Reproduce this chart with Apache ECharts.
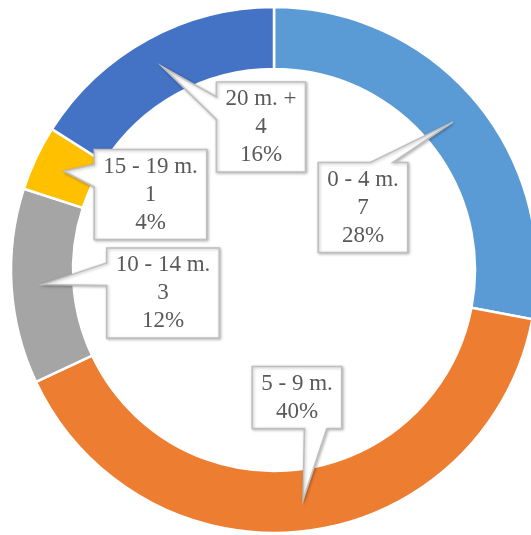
<!DOCTYPE html>
<html>
<head>
<meta charset="utf-8">
<script src="https://cdn.jsdelivr.net/npm/echarts@6/dist/echarts.min.js"></script>
<style>
  html, body { margin: 0; padding: 0; background: #ffffff; }
  #chart { width: 531px; height: 535px; }
</style>
</head>
<body>
<div id="chart"></div>
<script>
// ---- data ----
const categories = ['0 - 4 m.', '5 - 9 m.', '10 - 14 m.', '15 - 19 m.', '20 m. +'];
const values = [7, 10, 3, 1, 4];
const showValueInLabel = [true, false, true, true, true];

// ---- styling ----
const colors = ['#5B9BD5', '#ED7D31', '#A5A5A5', '#FFC000', '#4472C4'];
// callout box centre, offset from the pie centre (px), and the side the pointer leaves from
const labelOffsets = [[89, -62.5], [23, 127.5], [-111, 23], [-123.5, -75.5], [-13, -143]];
const calloutSides = ['top', 'bottom', 'left', 'left', 'left'];
const FONT_SIZE = 23;
const LINE_H = 28;
const FONT_FAMILY = '"Liberation Serif", "Times New Roman", serif';

const chart = echarts.init(document.getElementById('chart'), null, { renderer: 'canvas' });
const total = values.reduce((a, b) => a + b, 0);

chart.setOption({
  animation: false,
  backgroundColor: '#ffffff',
  series: [{
    type: 'pie',
    center: [274, 270],
    radius: [201, 263],
    startAngle: 90,
    clockwise: true,
    avoidLabelOverlap: false,
    label: { show: false },
    labelLine: { show: false },
    itemStyle: { borderColor: '#ffffff', borderWidth: 2.5 },
    emphasis: { disabled: true },
    data: categories.map((c, i) => ({ name: c, value: values[i], itemStyle: { color: colors[i] } }))
  }]
});

// measure text
const cv = document.createElement('canvas').getContext('2d');
cv.font = FONT_SIZE + 'px ' + FONT_FAMILY;

function layoutOf(i) {
  const d = chart.getModel().getSeriesByIndex(0).getData();
  return d.getItemLayout(i);
}

const elements = [];
categories.forEach((name, i) => {
  const l = layoutOf(i);
  const mid = (l.startAngle + l.endAngle) / 2;
  const rm = (l.r + l.r0) / 2;
  const tip = [l.cx + rm * Math.cos(mid), l.cy + rm * Math.sin(mid)];

  const pct = Math.round(values[i] / total * 100) + '%';
  const lines = showValueInLabel[i] ? [name, String(values[i]), pct] : [name, pct];
  const tw = Math.max(...lines.map(s => cv.measureText(s).width));
  const w = tw + 18, h = lines.length * LINE_H + 6;
  const cx = l.cx + labelOffsets[i][0], cy = l.cy + labelOffsets[i][1];
  const L = cx - w / 2, R = cx + w / 2, T = cy - h / 2, B = cy + h / 2;

  const dx = tip[0] - cx, dy = tip[1] - cy;
  const side = calloutSides[i];
  let pts;
  if (side === 'left' || side === 'right') {
    const y1 = T + h * (dy > 0 ? 7 : 2) / 12, y2 = T + h * (dy > 0 ? 10 : 5) / 12;
    if (side === 'left') pts = [[L, T], [R, T], [R, B], [L, B], [L, y2], tip, [L, y1]];
    else pts = [[L, T], [R, T], [R, y1], tip, [R, y2], [R, B], [L, B]];
  } else {
    const x1 = L + w * (dx > 0 ? 7 : 2) / 12, x2 = L + w * (dx > 0 ? 10 : 5) / 12;
    if (side === 'top') pts = [[L, T], [x1, T], tip, [x2, T], [R, T], [R, B], [L, B]];
    else pts = [[L, T], [R, T], [R, B], [x2, B], tip, [x1, B], [L, B]];
  }
  elements.push({
    type: 'polygon', z: 10,
    shape: { points: pts },
    style: {
      fill: '#ffffff', stroke: '#BFBFBF', lineWidth: 1.6, lineJoin: 'miter',
      shadowBlur: 3, shadowColor: 'rgba(0,0,0,0.25)', shadowOffsetX: 1, shadowOffsetY: 1
    }
  });
  elements.push({
    type: 'text', z: 11,
    x: cx, y: cy,
    style: {
      text: lines.join('\n'),
      fill: '#595959',
      font: FONT_SIZE + 'px ' + FONT_FAMILY,
      lineHeight: LINE_H,
      align: 'center',
      verticalAlign: 'middle'
    }
  });
});

chart.setOption({ graphic: { elements: elements } });
</script>
</body>
</html>
